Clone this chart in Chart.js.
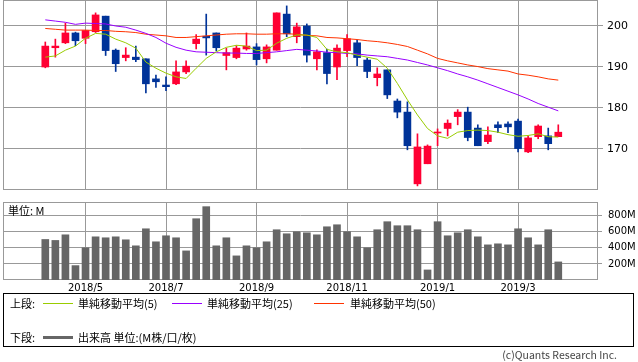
<!DOCTYPE html>
<html><head><meta charset="utf-8">
<script src="https://cdn.jsdelivr.net/npm/chart.js@4"></script>
<style>
html,body{margin:0;padding:0;background:#fff;}
body{width:638px;height:362px;position:relative;overflow:hidden;font-family:"Noto Sans CJK JP",sans-serif;color:#000;}
canvas{position:absolute;left:0;}
#c1{top:0;}
#c2{top:195px;}
.unit{position:absolute;left:8px;top:203px;font-size:11px;line-height:14px;}
.legend{position:absolute;left:3px;top:293px;width:631px;height:54px;border:1px solid #000;box-sizing:border-box;font-size:11px;}
.it{position:absolute;height:16px;line-height:16px;white-space:nowrap;}
.ln{position:absolute;width:30px;height:1px;}
.copy{position:absolute;right:21px;top:348px;font-size:10.5px;line-height:14px;color:#444;}
</style>
</head><body>
<canvas id="c1" width="638" height="195"></canvas>
<canvas id="c2" width="638" height="105"></canvas>
<div class="unit">単位: M</div>
<div class="legend">
  <div class="it" style="left:6px;top:1px;">上段:</div>
  <div class="ln" style="left:39px;top:9px;background:#99cc00;"></div>
  <div class="it" style="left:74px;top:1px;">単純移動平均(5)</div>
  <div class="ln" style="left:168px;top:9px;background:#9900ff;"></div>
  <div class="it" style="left:203px;top:1px;">単純移動平均(25)</div>
  <div class="ln" style="left:310px;top:9px;background:#ff3300;"></div>
  <div class="it" style="left:346px;top:1px;">単純移動平均(50)</div>
  <div class="it" style="left:6px;top:35px;">下段:</div>
  <div class="ln" style="left:39px;top:42px;height:3px;background:#666;"></div>
  <div class="it" style="left:74px;top:35px;">出来高 単位:(M株/口/枚)</div>
</div>
<div class="copy">(c)Quants Research Inc.</div>
<script>
const opens  = [190.0,194.7,195.9,198.3,197.0,198.6,202.4,194.1,192.3,192.4,192.0,187.1,185.6,185.9,188.8,195.7,197.5,198.3,192.8,192.3,194.4,194.9,192.0,194.1,202.9,197.4,200.0,192.0,193.5,190.0,194.0,195.9,191.7,187.4,189.3,181.7,179.0,161.5,166.4,173.9,175.0,177.9,179.0,175.1,171.8,175.9,176.1,176.8,169.3,173.0,173.2,173.0];
const highs  = [196.1,196.8,200.7,198.5,198.9,203.2,202.4,194.4,194.7,195.1,192.0,188.0,187.6,191.5,191.5,197.9,202.9,198.3,194.6,195.2,198.3,195.7,195.4,203.2,204.9,200.7,200.5,194.2,194.4,195.4,197.9,196.6,192.2,189.8,189.3,182.2,181.5,173.7,171.0,174.9,177.1,179.6,180.2,175.9,175.4,176.6,176.6,177.3,173.2,175.9,175.1,175.9];
const lows   = [189.8,192.4,195.7,195.2,195.7,198.4,192.8,188.9,191.5,191.3,183.7,185.0,184.2,185.7,188.4,194.4,192.9,193.9,189.3,192.0,194.1,190.5,191.0,194.1,197.4,195.9,191.2,189.3,185.9,186.9,192.5,190.3,187.4,185.4,182.3,177.6,169.8,161.0,166.4,170.8,173.2,175.9,172.0,170.8,171.3,174.0,174.0,169.3,169.1,172.5,169.8,173.0];
const closes = [195.1,195.1,198.3,196.4,198.9,202.7,194.0,190.8,192.9,191.8,185.9,186.4,185.2,188.8,190.2,196.8,197.1,194.7,193.5,194.6,195.1,191.8,194.9,203.2,198.1,199.8,192.9,193.7,188.4,194.6,196.9,192.3,188.9,188.3,183.2,179.0,170.8,170.5,170.7,174.1,176.3,179.0,172.8,170.8,173.4,175.2,175.4,170.1,172.7,175.6,171.3,174.1];
const ma5  = [192.4,192.7,194.1,195.1,197.0,198.2,198.0,196.8,195.9,194.6,191.2,189.7,188.5,187.6,187.2,189.7,192.1,193.7,194.8,195.3,195.1,194.0,194.1,195.8,197.0,197.8,197.8,197.2,194.3,193.7,193.5,192.9,192.4,191.9,189.7,186.0,182.0,178.3,175.0,173.2,172.6,174.1,174.5,174.6,174.5,174.1,173.5,173.1,173.3,173.7,173.0,172.9];
const ma25 = [201.5,201.2,200.9,200.4,200.7,200.6,200.5,200.0,199.7,199.0,198.2,197.2,195.8,194.8,194.1,193.7,193.6,193.5,193.4,193.4,193.3,193.3,193.5,193.7,194.0,194.3,194.1,193.9,193.6,193.5,193.3,193.2,192.9,192.7,192.5,192.1,191.7,191.1,190.5,189.8,189.1,188.3,187.6,186.8,185.9,185.0,184.1,183.2,182.2,181.1,180.2,179.3];
const ma50 = [199.4,199.2,199.0,199.0,199.0,198.9,198.9,198.7,198.6,198.4,198.0,197.8,197.6,197.2,197.2,197.4,197.6,197.8,198.0,198.1,198.1,198.0,198.0,198.1,198.1,198.0,197.7,197.6,197.2,197.1,196.9,196.7,196.4,196.2,195.9,195.5,195.0,194.1,193.2,192.1,191.5,191.0,190.5,190.1,189.6,189.3,189.0,188.3,188.0,187.6,187.1,186.8];
const volume = [504,492,562,179,400,537,525,537,500,425,637,475,550,525,362,762,912,425,525,300,425,400,475,625,575,600,587,562,662,687,600,537,400,625,725,675,675,625,125,725,550,587,625,537,437,450,437,637,525,437,625,225];
const monthIdx = [4,12,21,30,39,47];
const monthLabels = ['2018/5','2018/7','2018/9','2018/11','2019/1','2019/3'];
const priceTicks = [170,180,190,200];
const volTicks = [200,400,600,800];

const UP = '#ff0033', DOWN = '#003399', GRID = '#999999';
const X_MIN = -4.205, X_MAX = 54.948;
const candleColors = closes.map((c,i)=> c >= opens[i] ? UP : DOWN);
const pts = arr => arr.map((v,i)=>({x:i,y:v}));

const frame = {
  id:'frame',
  beforeDatasetsDraw(chart){
    const {ctx, chartArea:a} = chart;
    ctx.save();
    ctx.strokeStyle = GRID; ctx.lineWidth = 1;
    const l = Math.round(a.left), t = Math.round(a.top), r = Math.round(a.right), b = Math.round(a.bottom);
    ctx.strokeRect(l+0.5, t+0.5, r-l-1, b-t-1);
    ctx.restore();
  }
};
const noPadY = s => { s.paddingTop = 0; s.paddingBottom = 0; };
const noPadX = s => { s.paddingLeft = 0; s.paddingRight = 0; };

new Chart(document.getElementById('c1'), {
  type:'bar',
  data:{datasets:[
    {type:'line', data:pts(ma5), borderColor:'#99cc00', borderWidth:1, pointRadius:0, tension:0, order:0},
    {type:'line', data:pts(ma25), borderColor:'#9900ff', borderWidth:1, pointRadius:0, tension:0, order:0},
    {type:'line', data:pts(ma50), borderColor:'#ff3300', borderWidth:1, pointRadius:0, tension:0, order:0},
    {type:'bar', data:opens.map((o,i)=>({x:i,y:[o,closes[i]]})), backgroundColor:candleColors, barThickness:7, grouped:false, minBarLength:1, order:1},
    {type:'bar', data:lows.map((l,i)=>({x:i,y:[l,highs[i]]})), backgroundColor:candleColors, barThickness:1, grouped:false, order:2}
  ]},
  options:{
    responsive:false, animation:false, events:[],
    layout:{padding:{left:3,top:0,right:0,bottom:0}},
    plugins:{legend:{display:false}, tooltip:{enabled:false}},
    scales:{
      x:{type:'linear', min:X_MIN, max:X_MAX, offset:false,
         grid:{offset:false, color:GRID, drawTicks:false}, border:{display:false},
         ticks:{display:false},
         afterBuildTicks:s=>{ s.ticks = monthIdx.map(v=>({value:v})); },
         afterFit:s=>{ s.height = 5; noPadX(s); }},
      y:{position:'right', min:160, max:206.34,
         grid:{color:GRID, tickLength:5}, border:{display:false},
         ticks:{padding:4, color:'#000', font:{family:'DejaVu Sans', size:11}},
         afterBuildTicks:s=>{ s.ticks = priceTicks.map(v=>({value:v})); },
         afterFit:s=>{ s.width = 40; noPadY(s); }}
    }
  },
  plugins:[frame]
});

new Chart(document.getElementById('c2'), {
  type:'bar',
  data:{datasets:[
    {data:pts(volume), backgroundColor:'#666666', barThickness:7}
  ]},
  options:{
    responsive:false, animation:false, events:[],
    layout:{padding:{left:3,top:7,right:0,bottom:0}},
    plugins:{legend:{display:false}, tooltip:{enabled:false}},
    scales:{
      x:{type:'linear', min:X_MIN, max:X_MAX, offset:false,
         grid:{offset:false, color:GRID, drawTicks:false}, border:{display:false},
         ticks:{padding:2, color:'#000', font:{family:'DejaVu Sans', size:10}, maxRotation:0, autoSkip:false,
                callback:v=>{ const k = monthIdx.indexOf(v); return k>=0 ? monthLabels[k] : ''; }},
         afterBuildTicks:s=>{ s.ticks = monthIdx.map(v=>({value:v})); },
         afterFit:s=>{ s.height = 20; noPadX(s); }},
      y:{position:'right', min:0, max:970,
         grid:{color:GRID, tickLength:4}, border:{display:false},
         ticks:{padding:6, color:'#000', font:{family:'DejaVu Sans', size:10}, callback:v=>v+'M'},
         afterBuildTicks:s=>{ s.ticks = volTicks.map(v=>({value:v})); },
         afterFit:s=>{ s.width = 40; noPadY(s); }}
    }
  },
  plugins:[frame]
});
</script>
</body></html>
